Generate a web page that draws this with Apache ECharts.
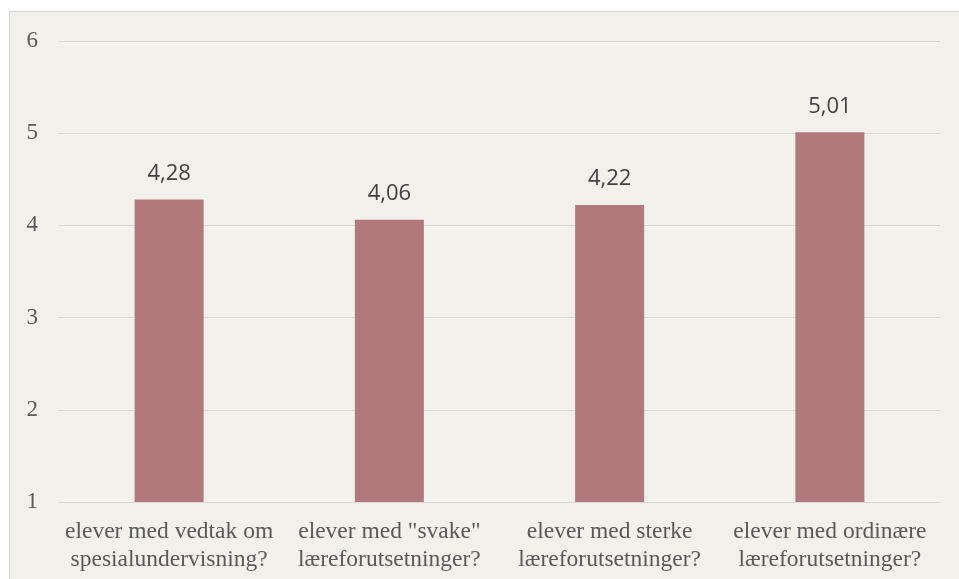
<!DOCTYPE html>
<html>
<head>
<meta charset="utf-8">
<script src="https://cdn.jsdelivr.net/npm/echarts@6/dist/echarts.min.js"></script>
<style>
    html, body { margin: 0; padding: 0; background: #ffffff; }
    .wrap { position: relative; width: 959px; height: 579px; overflow: hidden; }
    #chart {
        position: absolute; left: 9px; top: 11px;
        width: 960px; height: 580px;
        background: #f1f0ea;
        border: 1px solid #d9d9d9;
        box-sizing: border-box;
    }
</style>
</head>
<body>
<div class="wrap"><div id="chart"></div></div>
<script>
var categories = [
    'elever med vedtak om\nspesialundervisning?',
    'elever med "svake"\nlæreforutsetninger?',
    'elever med sterke\nlæreforutsetninger?',
    'elever med ordinære\nlæreforutsetninger?'
];
var values = [4.28, 4.06, 4.22, 5.01];
var yTicks = [1, 2, 3, 4, 5, 6];

var myChart = echarts.init(document.getElementById('chart'));
var option = {
    animation: false,
    grid: {
        left: 49,
        top: 29,
        width: 881,
        height: 461,
        containLabel: false
    },
    xAxis: {
        type: 'category',
        data: categories,
        axisLine: { show: true, lineStyle: { color: '#d9d9d9', width: 1 } },
        axisTick: { show: false },
        axisLabel: {
            color: '#595959',
            fontFamily: 'Liberation Serif',
            fontSize: 23.5,
            lineHeight: 28,
            margin: 16,
            interval: 0
        }
    },
    yAxis: {
        type: 'value',
        min: yTicks[0],
        max: yTicks[yTicks.length - 1],
        interval: 1,
        axisLine: { show: false },
        axisTick: { show: false },
        splitLine: { lineStyle: { color: '#d9d9d9', width: 1 } },
        axisLabel: {
            color: '#595959',
            fontFamily: 'Liberation Serif',
            fontSize: 23,
            margin: 21
        }
    },
    series: [
        {
            type: 'bar',
            data: values,
            barWidth: 69,
            itemStyle: { color: '#b07a7c' },
            label: {
                show: true,
                position: 'top',
                distance: 15,
                color: '#404040',
                fontFamily: 'Open Sans',
                fontSize: 22,
                formatter: function (p) {
                    return p.value.toFixed(2).replace('.', ',');
                }
            }
        }
    ]
};
myChart.setOption(option);
</script>
</body>
</html>
